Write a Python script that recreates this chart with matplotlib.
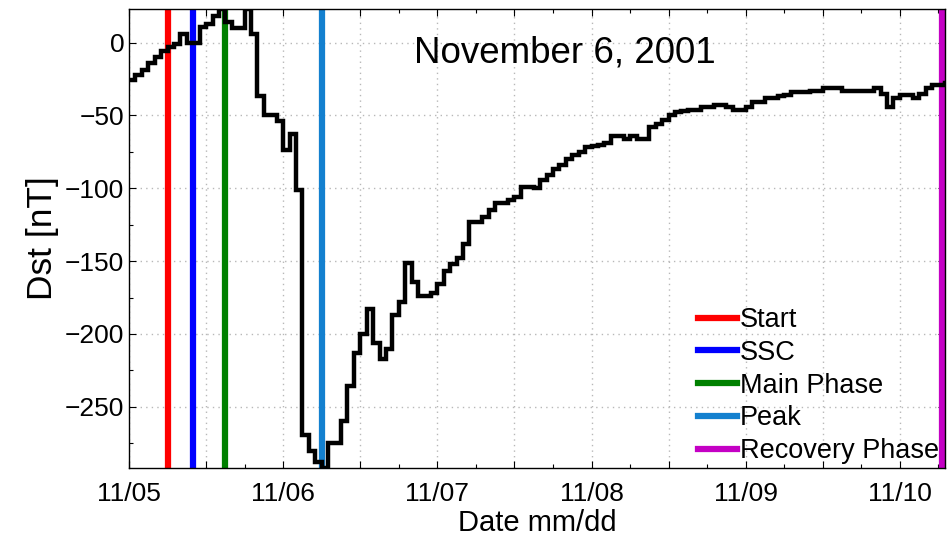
import datetime as dt
import matplotlib
matplotlib.use("Agg")
import matplotlib.pyplot as plt
import matplotlib.dates as mdates
from matplotlib.ticker import MultipleLocator, FuncFormatter

plt.rcParams["font.family"] = ["Liberation Sans", "DejaVu Sans"]

# Hourly Dst index [nT], starting 2001-11-05 00:00 UT
start_time = dt.datetime(2001, 11, 5, 0, 0)
dst_values = [
    -26, -22, -19, -14, -10, -6, -3, -1, 6, 0,
    0, 11, 13, 18, 23, 14, 10, 10, 23, 6,
    -37, -50, -50, -54, -74, -63, -101, -269, -280, -288,
    -292, -275, -275, -260, -236, -213, -200, -183, -206, -217,
    -210, -187, -178, -151, -164, -174, -174, -172, -166, -157,
    -152, -148, -138, -123, -123, -120, -115, -110, -110, -108,
    -106, -99, -99, -100, -94, -91, -87, -84, -80, -77,
    -75, -72, -71, -70, -69, -64, -64, -66, -64, -66,
    -66, -58, -56, -53, -50, -48, -47, -46, -46, -44,
    -44, -43, -43, -44, -46, -46, -44, -41, -41, -38,
    -38, -37, -36, -34, -34, -34, -33, -33, -31, -31,
    -31, -33, -33, -33, -33, -33, -31, -35, -44, -38,
    -36, -36, -38, -35, -31, -29, -29, -28,
]

# Storm phase markers (UT)
event_names = ["Start", "SSC", "Main Phase", "Peak", "Recovery Phase"]
event_times = [
    dt.datetime(2001, 11, 5, 6, 0),
    dt.datetime(2001, 11, 5, 10, 0),
    dt.datetime(2001, 11, 5, 15, 0),
    dt.datetime(2001, 11, 6, 6, 0),
    dt.datetime(2001, 11, 10, 6, 30),
]
event_colors = ["#ff0000", "#0000ff", "#008000", "#1380cf", "#c400c4"]

times = [start_time + dt.timedelta(hours=i) for i in range(len(dst_values) + 1)]
x_end = start_time + dt.timedelta(hours=127)

fig = plt.figure(figsize=(9.52, 5.4), dpi=100)
ax = fig.add_axes([0.1355, 0.1333, 0.857, 0.85])

ax.grid(True, which="major", linestyle=(0, (1, 3)), color="#b8b8b8", linewidth=1.0)
ax.set_axisbelow(True)

for name, t, c in zip(event_names, event_times, event_colors):
    ax.axvline(t, color=c, linewidth=4.5, label=name, zorder=2)

ax.stairs(dst_values, times, color="black", linewidth=3.2, baseline=None, zorder=3)

ax.set_xlim(start_time, x_end)
ax.set_ylim(min(dst_values), max(dst_values))

ax.xaxis.set_major_locator(mdates.HourLocator(byhour=[0, 12]))
ax.xaxis.set_minor_locator(mdates.HourLocator(byhour=[6, 18]))


def day_label(x, pos):
    d = mdates.num2date(x)
    return d.strftime("%m/%d") if d.hour == 0 else ""


ax.xaxis.set_major_formatter(FuncFormatter(day_label))
ax.yaxis.set_major_locator(MultipleLocator(50))
ax.yaxis.set_minor_locator(MultipleLocator(25))

ax.tick_params(which="both", direction="in", top=True, right=True, labelsize=19)
ax.tick_params(which="major", length=5, width=0.8)
ax.tick_params(which="minor", length=3, width=0.8)
ax.tick_params(axis="x", pad=10)
for s in ax.spines.values():
    s.set_linewidth(1.0)

ax.set_xlabel("Date mm/dd", fontsize=21, labelpad=2)
ax.set_ylabel("Dst [nT]", fontsize=25.5, labelpad=4)

ax.text(0.534, 0.905, "November 6, 2001", transform=ax.transAxes,
        ha="center", va="center", fontsize=26.5)

ax.legend(loc="lower right", frameon=False, fontsize=19.5, handlelength=1.45,
          handletextpad=0.1, labelspacing=0.25, borderaxespad=0.0,
          bbox_to_anchor=(1.006, -0.015))

fig.savefig("out.png", dpi=100)
